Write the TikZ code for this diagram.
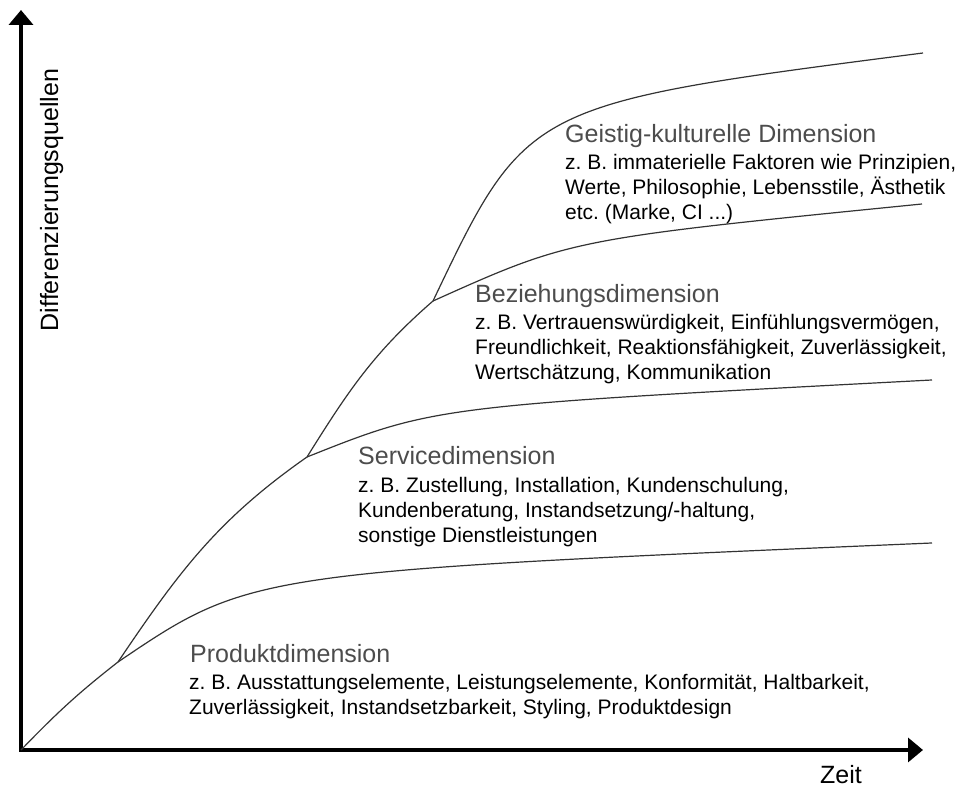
\documentclass[tikz,border=0pt]{standalone}
\usepackage{fontspec}
\setmainfont{Liberation Sans}
\usetikzlibrary{arrows.meta,positioning}
\frenchspacing

\begin{document}
\begin{tikzpicture}[x=1pt, y=1pt]
  \tikzstyle{axis}=[line width=3.5pt, >={Triangle[length=15pt,width=24pt]}, <->]
  \tikzstyle{curve}=[line width=1.2pt, black!80]
  \tikzstyle{dimtitle}=[anchor=base west, inner sep=0pt, text=black!70, font=\fontsize{25}{30}\selectfont]
  % base = Grundlinie der letzten Zeile
  \tikzstyle{dimtext}=[anchor=base west, inner sep=0pt, align=left, font=\fontsize{21}{25}\selectfont]
  \tikzstyle{axislabel}=[inner sep=0pt, font=\fontsize{25}{30}\selectfont]

  \useasboundingbox (0,0) rectangle (962,789);

  % Achsen
  \coordinate (o) at (21,39);
  \coordinate (ytip) at (21,779);
  \coordinate (xtip) at (923,39);
  \draw[axis] (ytip) -- (o) -- (xtip);
  \node[axislabel, rotate=90, anchor=base] (ylab) at (58,589) {Differenzierungsquellen};
  \node[axislabel, anchor=base west] (xlab) at (820,5) {Zeit};

  % Verzweigungen
  \coordinate (b1) at (118,127);
  \coordinate (b2) at (307,332);
  \coordinate (b3) at (433,488);
  \coordinate (e1) at (932,246);
  \coordinate (e2) at (932,409);
  \coordinate (e3) at (922,585);
  \coordinate (e4) at (923,736);

  \draw[curve] (o) to[out=46,in=218] (b1) to[out=56,in=215] (b2) to[out=58,in=221] (b3)
    .. controls (527,685) and (527,685) .. (e4);
  \draw[curve] (b1) .. controls (251,217) and (251,217) .. (e1);
  \draw[curve] (b2) .. controls (435,383) and (435,383) .. (e2);
  \draw[curve] (b3) .. controls (571,550) and (571,550) .. (e3);

  % Dimensionen
  \node[dimtitle] (prod) at (190,126) {Produktdimension};
  \node[dimtext] (prodtxt) at (189,74) {z. B. Ausstattungselemente, Leistungselemente, Konformität, Haltbarkeit,\\Zuverlässigkeit, Instandsetzbarkeit, Styling, Produktdesign};

  \node[dimtitle] (serv) at (358,324) {Servicedimension};
  \node[dimtext] (servtxt) at (358,246) {z. B. Zustellung, Installation, Kundenschulung,\\Kundenberatung, Instandsetzung/-haltung,\\sonstige Dienstleistungen};

  \node[dimtitle] (bez) at (475,486) {Beziehungsdimension};
  \node[dimtext] (beztxt) at (475,409) {z. B. Vertrauenswürdigkeit, Einfühlungsvermögen,\\Freundlichkeit, Reaktionsfähigkeit, Zuverlässigkeit,\\Wertschätzung, Kommunikation};

  \node[dimtitle] (geist) at (565,646) {Geistig-kulturelle Dimension};
  \node[dimtext] (geisttxt) at (565,569) {z. B. immaterielle Faktoren wie Prinzipien,\\Werte, Philosophie, Lebensstile, Ästhetik\\etc. (Marke, CI ...)};
\end{tikzpicture}
\end{document}
